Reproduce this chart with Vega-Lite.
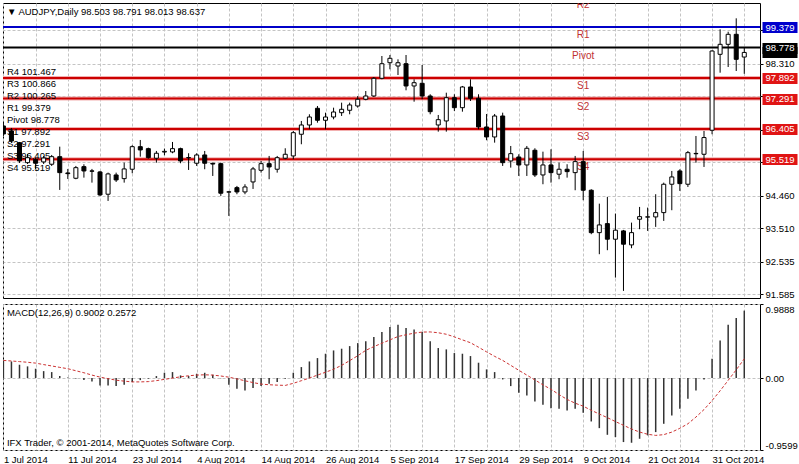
{
  "$schema": "https://vega.github.io/schema/vega-lite/v6.json",
  "background": "#ffffff",
  "padding": {"left": 2, "top": 2, "right": 0, "bottom": 0},
  "spacing": 3,
  "datasets": {
    "bars": [
      {"date":"2014-07-01","open":96.491,"high":96.607,"low":96.199,"close":96.257,"macd":0.236,"signal":0.236},
      {"date":"2014-07-02","open":96.346,"high":96.433,"low":95.995,"close":96.053,"macd":0.222,"signal":0.228},
      {"date":"2014-07-03","open":96.004,"high":96.024,"low":95.412,"close":95.470,"macd":0.178,"signal":0.220},
      {"date":"2014-07-04","open":95.420,"high":95.674,"low":95.382,"close":95.566,"macd":0.156,"signal":0.211},
      {"date":"2014-07-07","open":95.519,"high":95.566,"low":95.228,"close":95.403,"macd":0.125,"signal":0.200},
      {"date":"2014-07-08","open":95.441,"high":95.616,"low":95.382,"close":95.557,"macd":0.093,"signal":0.180},
      {"date":"2014-07-09","open":95.374,"high":95.645,"low":95.324,"close":95.595,"macd":0.080,"signal":0.162},
      {"date":"2014-07-10","open":95.595,"high":95.887,"low":94.624,"close":95.129,"macd":0.027,"signal":0.143},
      {"date":"2014-07-11","open":95.120,"high":95.237,"low":94.945,"close":95.100,"macd":0.009,"signal":0.125},
      {"date":"2014-07-14","open":94.965,"high":95.324,"low":94.936,"close":95.274,"macd":-0.005,"signal":0.098},
      {"date":"2014-07-15","open":95.304,"high":95.374,"low":94.983,"close":95.178,"macd":-0.027,"signal":0.071},
      {"date":"2014-07-16","open":95.180,"high":95.237,"low":94.837,"close":95.170,"macd":-0.045,"signal":0.040},
      {"date":"2014-07-17","open":95.149,"high":95.178,"low":94.449,"close":94.478,"macd":-0.098,"signal":0.013},
      {"date":"2014-07-18","open":94.499,"high":95.129,"low":94.303,"close":95.091,"macd":-0.098,"signal":-0.008},
      {"date":"2014-07-21","open":95.061,"high":95.129,"low":94.857,"close":94.916,"macd":-0.107,"signal":-0.028},
      {"date":"2014-07-22","open":94.954,"high":95.420,"low":94.837,"close":95.237,"macd":-0.089,"signal":-0.041},
      {"date":"2014-07-23","open":95.228,"high":95.928,"low":95.111,"close":95.887,"macd":-0.053,"signal":-0.051},
      {"date":"2014-07-24","open":95.887,"high":96.082,"low":95.595,"close":95.791,"macd":-0.027,"signal":-0.051},
      {"date":"2014-07-25","open":95.829,"high":95.858,"low":95.537,"close":95.566,"macd":-0.009,"signal":-0.047},
      {"date":"2014-07-28","open":95.549,"high":95.762,"low":95.420,"close":95.695,"macd":0.027,"signal":-0.034},
      {"date":"2014-07-29","open":95.730,"high":95.829,"low":95.636,"close":95.750,"macd":0.071,"signal":-0.017},
      {"date":"2014-07-30","open":95.733,"high":96.024,"low":95.695,"close":95.829,"macd":0.080,"signal":0.000},
      {"date":"2014-07-31","open":95.829,"high":95.858,"low":95.403,"close":95.470,"macd":0.036,"signal":0.017},
      {"date":"2014-08-01","open":95.560,"high":95.695,"low":95.207,"close":95.570,"macd":0.027,"signal":0.031},
      {"date":"2014-08-04","open":95.403,"high":95.695,"low":95.324,"close":95.645,"macd":0.058,"signal":0.040},
      {"date":"2014-08-05","open":95.645,"high":95.762,"low":95.228,"close":95.403,"macd":0.071,"signal":0.044},
      {"date":"2014-08-06","open":95.400,"high":95.420,"low":95.032,"close":95.380,"macd":0.045,"signal":0.040},
      {"date":"2014-08-07","open":95.391,"high":95.420,"low":94.449,"close":94.528,"macd":-0.003,"signal":0.028},
      {"date":"2014-08-08","open":94.560,"high":94.595,"low":93.865,"close":94.570,"macd":-0.089,"signal":0.012},
      {"date":"2014-08-11","open":94.691,"high":94.741,"low":94.499,"close":94.566,"macd":-0.142,"signal":-0.011},
      {"date":"2014-08-12","open":94.566,"high":94.790,"low":94.499,"close":94.711,"macd":-0.165,"signal":-0.036},
      {"date":"2014-08-13","open":94.857,"high":95.295,"low":94.653,"close":95.237,"macd":-0.134,"signal":-0.060},
      {"date":"2014-08-14","open":95.198,"high":95.470,"low":95.129,"close":95.391,"macd":-0.107,"signal":-0.080},
      {"date":"2014-08-15","open":95.391,"high":95.616,"low":94.936,"close":95.295,"macd":-0.076,"signal":-0.089},
      {"date":"2014-08-18","open":95.228,"high":95.616,"low":95.129,"close":95.566,"macd":-0.053,"signal":-0.094},
      {"date":"2014-08-19","open":95.549,"high":95.840,"low":95.519,"close":95.665,"macd":-0.009,"signal":-0.098},
      {"date":"2014-08-20","open":95.616,"high":96.345,"low":95.519,"close":96.295,"macd":0.071,"signal":-0.070},
      {"date":"2014-08-21","open":96.249,"high":96.637,"low":95.957,"close":96.520,"macd":0.147,"signal":-0.035},
      {"date":"2014-08-22","open":96.520,"high":96.832,"low":96.395,"close":96.753,"macd":0.222,"signal":0.000},
      {"date":"2014-08-25","open":97.007,"high":97.074,"low":96.587,"close":96.657,"macd":0.267,"signal":0.040},
      {"date":"2014-08-26","open":96.657,"high":96.879,"low":96.395,"close":96.753,"macd":0.325,"signal":0.078},
      {"date":"2014-08-27","open":96.753,"high":97.025,"low":96.686,"close":96.899,"macd":0.369,"signal":0.118},
      {"date":"2014-08-28","open":96.879,"high":97.171,"low":96.783,"close":96.978,"macd":0.392,"signal":0.170},
      {"date":"2014-08-29","open":96.949,"high":97.171,"low":96.832,"close":97.104,"macd":0.427,"signal":0.233},
      {"date":"2014-09-01","open":97.074,"high":97.366,"low":97.025,"close":97.270,"macd":0.467,"signal":0.298},
      {"date":"2014-09-02","open":97.270,"high":97.512,"low":97.241,"close":97.366,"macd":0.490,"signal":0.370},
      {"date":"2014-09-03","open":97.366,"high":97.920,"low":97.337,"close":97.882,"macd":0.547,"signal":0.420},
      {"date":"2014-09-04","open":97.882,"high":98.533,"low":97.853,"close":98.308,"macd":0.614,"signal":0.465},
      {"date":"2014-09-05","open":98.337,"high":98.562,"low":98.145,"close":98.466,"macd":0.681,"signal":0.510},
      {"date":"2014-09-08","open":98.241,"high":98.436,"low":97.978,"close":98.337,"macd":0.712,"signal":0.555},
      {"date":"2014-09-09","open":98.308,"high":98.562,"low":97.532,"close":97.658,"macd":0.668,"signal":0.578},
      {"date":"2014-09-10","open":97.658,"high":97.853,"low":97.200,"close":97.754,"macd":0.650,"signal":0.600},
      {"date":"2014-09-11","open":97.736,"high":98.270,"low":97.270,"close":97.366,"macd":0.614,"signal":0.614},
      {"date":"2014-09-12","open":97.366,"high":97.416,"low":96.832,"close":96.908,"macd":0.490,"signal":0.616},
      {"date":"2014-09-15","open":96.520,"high":96.812,"low":96.325,"close":96.675,"macd":0.401,"signal":0.605},
      {"date":"2014-09-16","open":96.637,"high":97.462,"low":96.325,"close":97.316,"macd":0.383,"signal":0.585},
      {"date":"2014-09-17","open":97.316,"high":97.416,"low":96.929,"close":97.025,"macd":0.334,"signal":0.550},
      {"date":"2014-09-18","open":97.025,"high":97.658,"low":96.908,"close":97.629,"macd":0.325,"signal":0.510},
      {"date":"2014-09-19","open":97.629,"high":97.853,"low":97.220,"close":97.299,"macd":0.294,"signal":0.472},
      {"date":"2014-09-22","open":97.299,"high":97.416,"low":96.395,"close":96.462,"macd":0.205,"signal":0.412},
      {"date":"2014-09-23","open":96.462,"high":96.841,"low":96.074,"close":96.170,"macd":0.116,"signal":0.350},
      {"date":"2014-09-24","open":96.170,"high":96.841,"low":96.004,"close":96.782,"macd":0.080,"signal":0.290},
      {"date":"2014-09-25","open":96.782,"high":96.879,"low":95.324,"close":95.420,"macd":-0.018,"signal":0.236},
      {"date":"2014-09-26","open":95.470,"high":95.907,"low":95.275,"close":95.683,"macd":-0.107,"signal":0.170},
      {"date":"2014-09-29","open":95.586,"high":95.665,"low":95.032,"close":95.353,"macd":-0.196,"signal":0.104},
      {"date":"2014-09-30","open":95.353,"high":95.907,"low":95.032,"close":95.840,"macd":-0.231,"signal":0.040},
      {"date":"2014-10-01","open":95.782,"high":95.840,"low":95.003,"close":95.061,"macd":-0.312,"signal":-0.025},
      {"date":"2014-10-02","open":95.061,"high":95.741,"low":94.790,"close":95.353,"macd":-0.356,"signal":-0.090},
      {"date":"2014-10-03","open":95.353,"high":95.811,"low":94.837,"close":95.129,"macd":-0.401,"signal":-0.150},
      {"date":"2014-10-06","open":95.083,"high":95.420,"low":94.936,"close":95.228,"macd":-0.409,"signal":-0.220},
      {"date":"2014-10-07","open":95.228,"high":95.374,"low":94.983,"close":95.158,"macd":-0.432,"signal":-0.285},
      {"date":"2014-10-08","open":95.129,"high":95.616,"low":94.615,"close":95.450,"macd":-0.409,"signal":-0.335},
      {"date":"2014-10-09","open":95.450,"high":95.762,"low":94.324,"close":94.615,"macd":-0.463,"signal":-0.375},
      {"date":"2014-10-10","open":94.615,"high":94.644,"low":93.332,"close":93.378,"macd":-0.579,"signal":-0.430},
      {"date":"2014-10-13","open":93.378,"high":94.224,"low":92.748,"close":93.603,"macd":-0.668,"signal":-0.480},
      {"date":"2014-10-14","open":93.641,"high":94.420,"low":92.865,"close":93.186,"macd":-0.757,"signal":-0.528},
      {"date":"2014-10-15","open":93.186,"high":93.933,"low":92.066,"close":93.449,"macd":-0.788,"signal":-0.580},
      {"date":"2014-10-16","open":93.428,"high":93.457,"low":91.678,"close":93.040,"macd":-0.854,"signal":-0.630},
      {"date":"2014-10-17","open":93.020,"high":93.670,"low":92.923,"close":93.378,"macd":-0.863,"signal":-0.680},
      {"date":"2014-10-20","open":93.769,"high":94.128,"low":93.478,"close":93.845,"macd":-0.810,"signal":-0.720},
      {"date":"2014-10-21","open":93.830,"high":94.108,"low":93.428,"close":93.840,"macd":-0.765,"signal":-0.750},
      {"date":"2014-10-22","open":93.836,"high":94.499,"low":93.545,"close":93.962,"macd":-0.721,"signal":-0.765},
      {"date":"2014-10-23","open":93.962,"high":94.837,"low":93.720,"close":94.790,"macd":-0.610,"signal":-0.755},
      {"date":"2014-10-24","open":94.790,"high":95.178,"low":94.032,"close":95.003,"macd":-0.498,"signal":-0.721},
      {"date":"2014-10-27","open":95.178,"high":95.228,"low":94.595,"close":94.808,"macd":-0.409,"signal":-0.670},
      {"date":"2014-10-28","open":94.790,"high":95.762,"low":94.711,"close":95.712,"macd":-0.276,"signal":-0.610},
      {"date":"2014-10-29","open":95.680,"high":96.199,"low":95.420,"close":95.690,"macd":-0.165,"signal":-0.520},
      {"date":"2014-10-30","open":95.665,"high":96.346,"low":95.295,"close":96.153,"macd":-0.018,"signal":-0.420},
      {"date":"2014-10-31","open":96.366,"high":98.699,"low":96.249,"close":98.679,"macd":0.258,"signal":-0.300},
      {"date":"2014-11-03","open":98.582,"high":99.312,"low":98.046,"close":98.874,"macd":0.503,"signal":-0.170},
      {"date":"2014-11-04","open":98.874,"high":99.242,"low":98.212,"close":99.166,"macd":0.712,"signal":-0.030},
      {"date":"2014-11-05","open":99.166,"high":99.633,"low":98.095,"close":98.436,"macd":0.801,"signal":0.110},
      {"date":"2014-11-06","open":98.503,"high":98.791,"low":98.013,"close":98.637,"macd":0.9002,"signal":0.2572}
    ],
    "pivots": [
      {"level":"R4","price":101.467},
      {"level":"R3","price":100.866},
      {"level":"R2","price":100.265},
      {"level":"R1","price":99.379},
      {"level":"Pivot","price":98.778},
      {"level":"S1","price":97.892},
      {"level":"S2","price":97.291},
      {"level":"S3","price":96.405},
      {"level":"S4","price":95.519}
    ]
  },
  "vconcat": [
    {
      "width": 757,
      "height": 295,
      "resolve": {"scale": {"y": "independent"}, "axis": {"y": "independent"}},
      "layer": [
        {
          "data": {"name": "pivots"},
          "transform": [{"filter": "indexof(['S1','S2','S3','S4'], datum.level) >= 0"}],
          "mark": {"type": "rule", "color": "#f2b0b0", "strokeWidth": 4, "clip": true},
          "encoding": {
            "y": {"field": "price", "type": "quantitative",
              "scale": {"domain": [91.47, 100.08], "nice": false, "zero": false},
              "axis": {"orient": "right", "values": [99.285, 98.31, 97.36, 96.385, 95.435, 94.46, 93.51, 92.535, 91.585],
                "labelExpr": "indexof([99.285, 97.36, 96.385, 95.435], datum.value) >= 0 ? '' : format(datum.value, '.3f')",
                "grid": true, "gridColor": "#c4c4c4", "gridDash": [3, 2], "tickSize": 3, "tickColor": "#000000", "labelPadding": 2, "domain": false, "title": null, "labelOverlap": false}}
          }
        },
        {
          "data": {"name": "pivots"},
          "transform": [{"filter": "datum.price < 100"}],
          "mark": {"type": "rule", "strokeWidth": 2, "clip": true},
          "encoding": {
            "y": {"field": "price", "type": "quantitative",
              "scale": {"domain": [91.47, 100.08], "nice": false, "zero": false},
              "axis": {"orient": "right", "values": [98.637], "labelExpr": "''", "grid": false, "offset": 2, "tickSize": 35, "tickWidth": 11, "tickColor": "#000000", "labelColor": "#ffffff", "labelPadding": -32, "domain": false, "title": null, "labelOverlap": false}},
            "color": {"field": "level", "type": "nominal", "legend": null,
              "scale": {"domain": ["R1", "Pivot", "S1", "S2", "S3", "S4"], "range": ["#0000c8", "#000000", "#cc0000", "#cc0000", "#cc0000", "#cc0000"]}}
          }
        },
        {
          "data": {"name": "pivots"},
          "transform": [{"filter": "datum.price < 100.5"}],
          "mark": {"type": "text", "clip": true, "color": "#c03030", "align": "center", "baseline": "middle", "dy": 8, "fontSize": 10},
          "encoding": {
            "x": {"datum": "2014-10-09", "type": "ordinal",
              "scale": {"type": "point", "padding": 1.3125, "align": 0.0238},
              "axis": {"values": ["2014-07-01","2014-07-07","2014-07-11","2014-07-17","2014-07-23","2014-07-29","2014-08-04","2014-08-08","2014-08-14","2014-08-20","2014-08-26","2014-09-01","2014-09-05","2014-09-11","2014-09-17","2014-09-23","2014-09-29","2014-10-03","2014-10-09","2014-10-15","2014-10-21","2014-10-27","2014-10-31","2014-11-06"], "grid": true, "gridColor": "#c4c4c4", "gridDash": [3, 2], "labels": false, "ticks": false, "domain": false, "title": null}},
            "y": {"field": "price", "type": "quantitative",
              "scale": {"domain": [91.47, 100.08], "nice": false, "zero": false},
              "axis": {"orient": "right", "values": [99.379, 98.778, 97.892, 97.291, 96.405, 95.519], "format": ".3f", "grid": false, "offset": 2, "tickSize": 35, "tickWidth": 11,
                "tickColor": {"condition": [{"test": "datum.value === 99.379", "value": "#0000cc"}, {"test": "datum.value === 98.778", "value": "#000000"}], "value": "#e01414"},
                "labelColor": "#ffffff", "labelPadding": -32, "domain": false, "title": null, "labelOverlap": false}},
            "text": {"field": "level", "type": "nominal"}
          }
        },
        {
          "data": {"values": [{"date": "2014-07-01", "lines": ["R4 101.467", "R3 100.866", "R2 100.265", "R1 99.379", "Pivot 98.778", "S1 97.892", "S2 97.291", "S3 96.405", "S4 95.519"]}]},
          "mark": {"type": "text", "align": "left", "baseline": "top", "lineHeight": 12, "dx": 3.5, "color": "#000000", "fontSize": 9.5},
          "encoding": {
            "x": {"field": "date", "type": "ordinal",
              "scale": {"type": "point", "padding": 1.3125, "align": 0.0238},
              "axis": {"values": ["2014-07-01","2014-07-07","2014-07-11","2014-07-17","2014-07-23","2014-07-29","2014-08-04","2014-08-08","2014-08-14","2014-08-20","2014-08-26","2014-09-01","2014-09-05","2014-09-11","2014-09-17","2014-09-23","2014-09-29","2014-10-03","2014-10-09","2014-10-15","2014-10-21","2014-10-27","2014-10-31","2014-11-06"], "grid": true, "gridColor": "#c4c4c4", "gridDash": [3, 2], "labels": false, "ticks": false, "domain": false, "title": null}},
            "y": {"datum": 98.223, "type": "quantitative", "scale": {"domain": [91.47, 100.08], "nice": false, "zero": false}, "axis": null},
            "text": {"field": "lines", "type": "nominal"}
          }
        },
        {
          "data": {"values": [{"date": "2014-07-01", "label": "▼ AUDJPY,Daily  98.503 98.791 98.013 98.637"}]},
          "mark": {"type": "text", "align": "left", "baseline": "middle", "dx": 3.5, "dy": 9, "color": "#000000", "fontSize": 9.5},
          "encoding": {
            "x": {"field": "date", "type": "ordinal",
              "scale": {"type": "point", "padding": 1.3125, "align": 0.0238},
              "axis": {"values": ["2014-07-01","2014-07-07","2014-07-11","2014-07-17","2014-07-23","2014-07-29","2014-08-04","2014-08-08","2014-08-14","2014-08-20","2014-08-26","2014-09-01","2014-09-05","2014-09-11","2014-09-17","2014-09-23","2014-09-29","2014-10-03","2014-10-09","2014-10-15","2014-10-21","2014-10-27","2014-10-31","2014-11-06"], "grid": true, "gridColor": "#c4c4c4", "gridDash": [3, 2], "labels": false, "ticks": false, "domain": false, "title": null}},
            "y": {"datum": 100.08, "type": "quantitative", "scale": {"domain": [91.47, 100.08], "nice": false, "zero": false}, "axis": null},
            "text": {"field": "label", "type": "nominal"}
          }
        },
        {
          "data": {"name": "bars"},
          "mark": {"type": "rule", "color": "#000000", "strokeWidth": 1, "clip": true},
          "encoding": {
            "x": {"field": "date", "type": "ordinal",
              "scale": {"type": "point", "padding": 1.3125, "align": 0.0238},
              "axis": {"values": ["2014-07-01","2014-07-07","2014-07-11","2014-07-17","2014-07-23","2014-07-29","2014-08-04","2014-08-08","2014-08-14","2014-08-20","2014-08-26","2014-09-01","2014-09-05","2014-09-11","2014-09-17","2014-09-23","2014-09-29","2014-10-03","2014-10-09","2014-10-15","2014-10-21","2014-10-27","2014-10-31","2014-11-06"], "grid": true, "gridColor": "#c4c4c4", "gridDash": [3, 2], "labels": false, "ticks": false, "domain": false, "title": null}},
            "y": {"field": "low", "type": "quantitative", "scale": {"domain": [91.47, 100.08], "nice": false, "zero": false}, "axis": null},
            "y2": {"field": "high"}
          }
        },
        {
          "data": {"name": "bars"},
          "mark": {"type": "bar", "width": 4, "stroke": "#000000", "strokeWidth": 1, "clip": true},
          "encoding": {
            "x": {"field": "date", "type": "ordinal",
              "scale": {"type": "point", "padding": 1.3125, "align": 0.0238},
              "axis": {"values": ["2014-07-01","2014-07-07","2014-07-11","2014-07-17","2014-07-23","2014-07-29","2014-08-04","2014-08-08","2014-08-14","2014-08-20","2014-08-26","2014-09-01","2014-09-05","2014-09-11","2014-09-17","2014-09-23","2014-09-29","2014-10-03","2014-10-09","2014-10-15","2014-10-21","2014-10-27","2014-10-31","2014-11-06"], "grid": true, "gridColor": "#c4c4c4", "gridDash": [3, 2], "labels": false, "ticks": false, "domain": false, "title": null}},
            "y": {"field": "open", "type": "quantitative", "scale": {"domain": [91.47, 100.08], "nice": false, "zero": false}, "axis": null},
            "y2": {"field": "close"},
            "fill": {"condition": {"test": "datum.close >= datum.open", "value": "#ffffff"}, "value": "#000000"}
          }
        }
      ]
    },
    {
      "width": 757,
      "height": 146,
      "data": {"name": "bars"},
      "layer": [
        {
          "mark": {"type": "rule", "color": "#333333", "strokeWidth": 1.5, "clip": true},
          "encoding": {
            "x": {"field": "date", "type": "ordinal",
              "scale": {"type": "point", "padding": 1.3125, "align": 0.0238},
              "axis": {"values": ["2014-07-01","2014-07-07","2014-07-11","2014-07-17","2014-07-23","2014-07-29","2014-08-04","2014-08-08","2014-08-14","2014-08-20","2014-08-26","2014-09-01","2014-09-05","2014-09-11","2014-09-17","2014-09-23","2014-09-29","2014-10-03","2014-10-09","2014-10-15","2014-10-21","2014-10-27","2014-10-31","2014-11-06"], "grid": true, "gridColor": "#c4c4c4", "gridDash": [3, 2], "ticks": false, "domain": false, "title": null, "labelAngle": 0, "labelAlign": "left", "labelBaseline": "top", "labelPadding": 4, "labelOverlap": false,
                "labelExpr": "indexof(['2014-07-01','2014-07-11','2014-07-23','2014-08-04','2014-08-14','2014-08-26','2014-09-05','2014-09-17','2014-09-29','2014-10-09','2014-10-21','2014-10-31'], datum.value) >= 0 ? utcFormat(toDate(datum.value), '%-d %b %Y') : ''"}},
            "y": {"field": "macd", "type": "quantitative",
              "scale": {"domain": [-0.9599, 0.9888], "nice": false, "zero": false},
              "axis": {"orient": "right", "values": [0.9888, 0, -0.9599], "labelFlush": true, "grid": true, "gridColor": "#c4c4c4", "gridDash": [3, 2], "tickSize": 3, "tickColor": "#000000", "labelPadding": 2, "domain": false, "title": null, "labelOverlap": false,
                "labelExpr": "datum.value == 0 ? '0.00' : (datum.value < 0 ? '-' + format(-datum.value, '.4f') : format(datum.value, '.4f'))"}},
            "y2": {"datum": 0}
          }
        },
        {
          "mark": {"type": "line", "color": "#cc3333", "strokeWidth": 1, "strokeDash": [3, 2], "clip": true},
          "encoding": {
            "x": {"field": "date", "type": "ordinal",
              "scale": {"type": "point", "padding": 1.3125, "align": 0.0238},
              "axis": {"values": ["2014-07-01","2014-07-07","2014-07-11","2014-07-17","2014-07-23","2014-07-29","2014-08-04","2014-08-08","2014-08-14","2014-08-20","2014-08-26","2014-09-01","2014-09-05","2014-09-11","2014-09-17","2014-09-23","2014-09-29","2014-10-03","2014-10-09","2014-10-15","2014-10-21","2014-10-27","2014-10-31","2014-11-06"], "grid": true, "gridColor": "#c4c4c4", "gridDash": [3, 2], "ticks": false, "domain": false, "title": null, "labelAngle": 0, "labelAlign": "left", "labelBaseline": "top", "labelPadding": 4, "labelOverlap": false,
                "labelExpr": "indexof(['2014-07-01','2014-07-11','2014-07-23','2014-08-04','2014-08-14','2014-08-26','2014-09-05','2014-09-17','2014-09-29','2014-10-09','2014-10-21','2014-10-31'], datum.value) >= 0 ? utcFormat(toDate(datum.value), '%-d %b %Y') : ''"}},
            "y": {"field": "signal", "type": "quantitative", "scale": {"domain": [-0.9599, 0.9888], "nice": false, "zero": false}}
          }
        },
        {
          "data": {"values": [{"date": "2014-07-01", "label": "MACD(12,26,9) 0.9002 0.2572"}]},
          "mark": {"type": "text", "align": "left", "baseline": "middle", "dx": 3.5, "dy": 9, "color": "#000000", "fontSize": 9.5},
          "encoding": {
            "x": {"field": "date", "type": "ordinal", "scale": {"type": "point", "padding": 1.3125, "align": 0.0238}},
            "y": {"datum": 0.9888, "type": "quantitative", "scale": {"domain": [-0.9599, 0.9888], "nice": false, "zero": false}},
            "text": {"field": "label", "type": "nominal"}
          }
        },
        {
          "data": {"values": [{"date": "2014-07-01", "label": "IFX Trader, © 2001-2014, MetaQuotes Software Corp."}]},
          "mark": {"type": "text", "align": "left", "baseline": "middle", "dx": 3.5, "dy": -7, "color": "#000000", "fontSize": 9.5},
          "encoding": {
            "x": {"field": "date", "type": "ordinal", "scale": {"type": "point", "padding": 1.3125, "align": 0.0238}},
            "y": {"datum": -0.9599, "type": "quantitative", "scale": {"domain": [-0.9599, 0.9888], "nice": false, "zero": false}},
            "text": {"field": "label", "type": "nominal"}
          }
        }
      ]
    }
  ],
  "config": {
    "font": "Liberation Sans",
    "view": {"stroke": "#000000", "strokeWidth": 1},
    "axis": {"labelFont": "Liberation Sans", "labelFontSize": 9.5, "labelColor": "#000000"},
    "text": {"font": "Liberation Sans", "fontSize": 9.5}
  }
}
